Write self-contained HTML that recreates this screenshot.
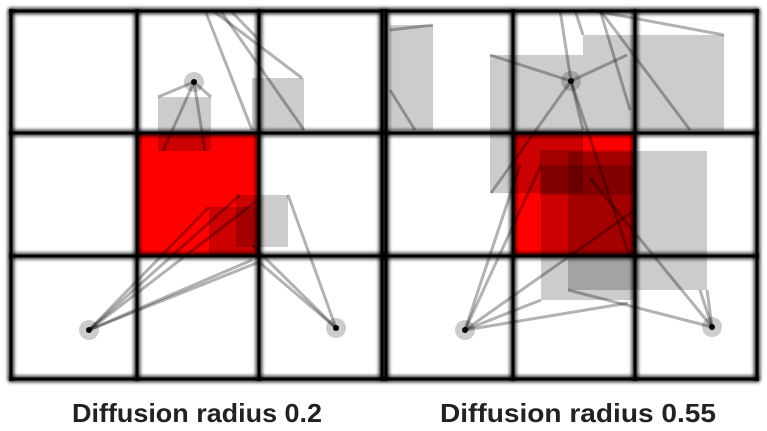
<!DOCTYPE html>
<html><head><meta charset="utf-8"><style>
html,body{margin:0;padding:0;background:#fff;}
svg{display:block;}
</style></head><body>
<svg id="fig" width="767" height="431" viewBox="0 0 767 431" xmlns="http://www.w3.org/2000/svg">
<defs><filter id="bl" x="-10%" y="-10%" width="120%" height="120%"><feGaussianBlur stdDeviation="1.6"/></filter></defs>
<g id="left"></g>
<g id="right"></g>
<text x="72" y="422" textLength="250" lengthAdjust="spacingAndGlyphs" font-family="Liberation Sans, sans-serif" font-weight="bold" font-size="26" fill="#222">Diffusion radius 0.2</text>
<text x="440" y="422" textLength="276" lengthAdjust="spacingAndGlyphs" font-family="Liberation Sans, sans-serif" font-weight="bold" font-size="26" fill="#222">Diffusion radius 0.55</text>
</svg>
<script>
const NS='http://www.w3.org/2000/svg';
// grid positions
const leftGridX=[11,137,259,382];
const rightGridX=[386,513,635,757];
const gridY=[11,133,256,379];
// gray diffusion squares [x0,y0,x1,y1]
const leftRects=[[158,97,211,151],[252,78,304,130],[236,195,288,247],[209,207,258,256]];
const rightRects=[[390,25,433,130],[490,55,583,193],[583,35,724,130],[636,151,707,290],[541,165,635,300],[568,152,635,290],[540,150,635,195]];
// particle dots
const leftDots=[[194,82],[89,330],[336,328]];
const rightDots=[[571,81],[465,330],[712,327]];
// lines [x1,y1,x2,y2]
const leftLines=[[194,82,158,97],[194,82,211,97],[194,82,163,151],[194,82,205,151],[205,10,252,130],[212,10,302,78],[220,10,304,130],[230,10,259,40],
[89,330,209,207],[89,330,258,200],[89,330,259,262],[89,330,240,195],[89,330,252,260],
[336,328,288,195],[336,328,259,262],[336,328,252,245]];
const rightLines=[[571,81,490,55],[571,81,627,55],[571,81,491,193],[571,81,583,130],[571,81,630,258],
[560,10,571,81],[575,10,583,35],[590,10,724,35],[600,10,690,130],[600,10,630,110],[390,30,433,25],[390,90,415,130],
[465,330,541,300],[465,330,628,303],[465,330,541,165],[465,330,635,210],[465,330,520,165],
[712,327,707,290],[712,327,568,290],[712,327,590,178],[712,327,700,290]];
const redL=[137,133,259,256], redR=[513,133,635,256];
function el(p,t,a,name){const e=document.createElementNS(NS,t);for(const k in a)e.setAttribute(k,a[k]);


p.appendChild(e);return e;}
function panel(g,gx,red,rects,lines,dots){
 el(g,'rect',{x:red[0],y:red[1],width:red[2]-red[0],height:red[3]-red[1],fill:'#ff0000'},'target-cell');
 rects.forEach(r=>el(g,'rect',{x:r[0],y:r[1],width:r[2]-r[0],height:r[3]-r[1],fill:'#000','fill-opacity':0.2},'diffusion-square'));
 lines.forEach(l=>el(g,'line',{x1:l[0],y1:l[1],x2:l[2],y2:l[3],stroke:'#000','stroke-opacity':0.3,'stroke-width':3},'projection-line'));
 const sh=el(g,'g',{filter:'url(#bl)'},'grid-shadow');
 gx.forEach(x=>el(sh,'line',{x1:x,y1:gridY[0]-2,x2:x,y2:gridY[3]+2,stroke:'#000','stroke-opacity':0.7,'stroke-width':7},'grid-line'));
 gridY.forEach(y=>el(sh,'line',{x1:gx[0]-2,y1:y,x2:gx[3]+2,y2:y,stroke:'#000','stroke-opacity':0.7,'stroke-width':7},'grid-line'));
 gx.forEach(x=>el(g,'line',{x1:x,y1:gridY[0]-2,x2:x,y2:gridY[3]+2,stroke:'#000','stroke-width':3},'grid-line'));
 gridY.forEach(y=>el(g,'line',{x1:gx[0]-2,y1:y,x2:gx[3]+2,y2:y,stroke:'#000','stroke-width':3},'grid-line'));
 dots.forEach(d=>{el(g,'circle',{cx:d[0],cy:d[1],r:10,fill:'#000','fill-opacity':0.2},'particle-halo');
  el(g,'circle',{cx:d[0],cy:d[1],r:3,fill:'#000'},'particle');});
}
panel(document.getElementById('left'),leftGridX,redL,leftRects,leftLines,leftDots);
panel(document.getElementById('right'),rightGridX,redR,rightRects,rightLines,rightDots);
</script>
</body></html>
